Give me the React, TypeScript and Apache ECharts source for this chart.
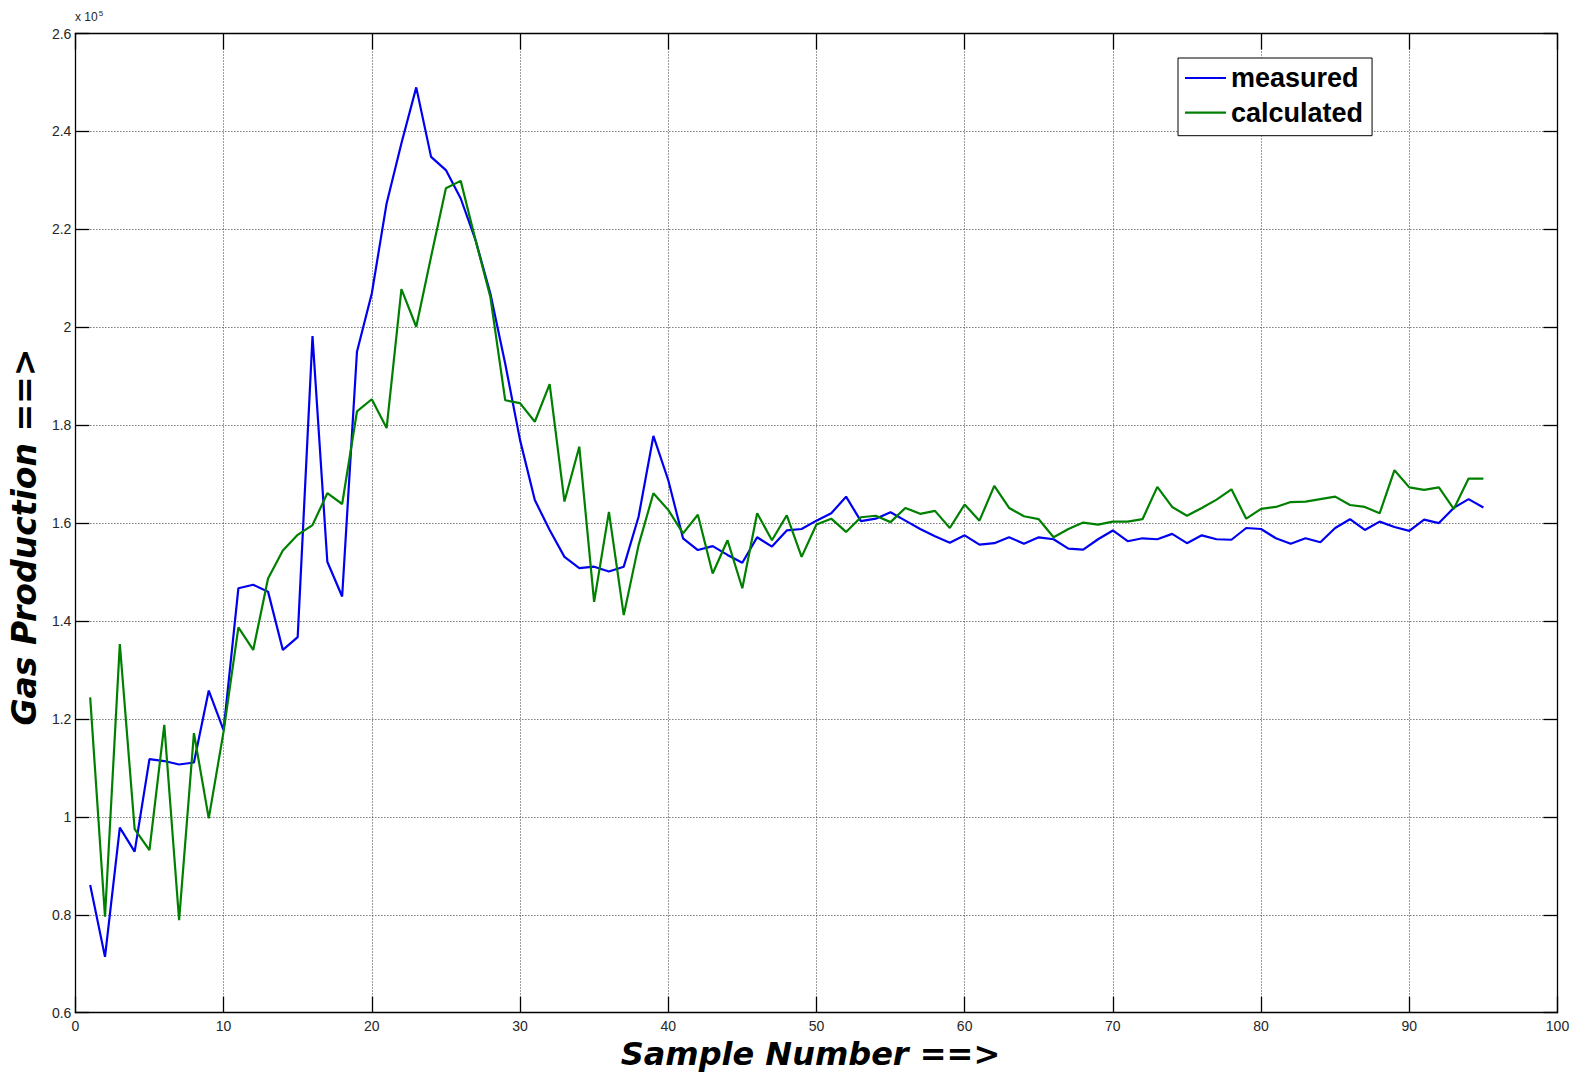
import React, { useEffect, useRef } from "react";
import * as echarts from "echarts";

const sampleNumbers: number[] = Array.from({ length: 95 }, (_, i) => i + 1);

const measured: number[] = [
  0.861, 0.714, 0.978, 0.929, 1.118, 1.114, 1.107, 1.111, 1.258, 1.177,
  1.467, 1.474, 1.46, 1.341, 1.367, 1.982, 1.521, 1.45, 1.95, 2.069,
  2.253, 2.376, 2.49, 2.348, 2.321, 2.263, 2.178, 2.069, 1.926, 1.77,
  1.647, 1.586, 1.531, 1.508, 1.511, 1.501, 1.511, 1.613, 1.778, 1.688,
  1.569, 1.545, 1.553, 1.535, 1.519, 1.571, 1.552, 1.585, 1.588, 1.605,
  1.62, 1.654, 1.604, 1.609, 1.622, 1.605, 1.588, 1.573, 1.56, 1.575,
  1.556, 1.559, 1.571, 1.558, 1.571, 1.567, 1.548, 1.546, 1.567, 1.585,
  1.563, 1.569, 1.567, 1.578, 1.559, 1.575, 1.567, 1.566, 1.59, 1.588,
  1.569, 1.558, 1.569, 1.561, 1.59, 1.608, 1.586, 1.603, 1.592, 1.584,
  1.607, 1.6, 1.631, 1.649, 1.632,
];

const calculated: number[] = [
  1.244, 0.796, 1.353, 0.975, 0.932, 1.188, 0.789, 1.171, 0.997, 1.174,
  1.387, 1.341, 1.487, 1.544, 1.576, 1.596, 1.661, 1.639, 1.828, 1.853,
  1.794, 2.078, 2.001, 2.144, 2.284, 2.299, 2.178, 2.062, 1.851, 1.845,
  1.807, 1.884, 1.644, 1.756, 1.439, 1.623, 1.412, 1.555, 1.661, 1.627,
  1.579, 1.617, 1.497, 1.565, 1.467, 1.62, 1.565, 1.616, 1.531, 1.597,
  1.609, 1.582, 1.612, 1.615, 1.602, 1.631, 1.619, 1.625, 1.59, 1.638,
  1.605, 1.676, 1.631, 1.614, 1.608, 1.571, 1.588, 1.601, 1.597, 1.603,
  1.603, 1.608, 1.674, 1.633, 1.615, 1.631, 1.648, 1.669, 1.609, 1.629,
  1.633, 1.643, 1.644, 1.649, 1.654, 1.637, 1.633, 1.62, 1.708, 1.673,
  1.668, 1.673, 1.629, 1.691, 1.691,
];

const seriesNames = ["measured", "calculated"];
const seriesColors = ["#0000f0", "#008000"];

const X_MIN = 0;
const X_MAX = 100;
const X_STEP = 10;
const Y_MIN = 0.6;
const Y_MAX = 2.6;
const Y_STEP = 0.2;

const X_TITLE = "Sample Number ==>";
const Y_TITLE = "Gas Production ==>";

export default function App() {
  const ref = useRef<HTMLDivElement>(null);

  useEffect(() => {
    if (!ref.current) return;
    const chart = echarts.init(ref.current, undefined, { renderer: "svg" });

    const tickFont = {
      fontFamily: "Liberation Sans",
      fontSize: 14,
      color: "#262626",
    };
    const titleFont = {
      fontFamily: "DejaVu Sans",
      fontWeight: "bold" as const,
      fontStyle: "italic" as const,
      color: "#000",
    };
    const gridLine = {
      show: true,
      lineStyle: { color: "#3a3a3a", type: [1, 2] as number[], width: 1 },
    };
    const axisLine = { show: true, onZero: false, lineStyle: { color: "#000", width: 1.3 } };
    const tickStyle = { color: "#000", width: 1.3 };

    const fmtY = (v: number) => String(parseFloat(v.toFixed(1)));

    chart.setOption({
      animation: false,
      backgroundColor: "#fff",
      grid: { left: 74, right: 18.5, top: 33.5, bottom: 66.3, containLabel: false },
      legend: {
        orient: "vertical",
        left: 1178,
        top: 58,
        padding: [6, 9, 9, 7],
        itemWidth: 41,
        itemHeight: 2.2,
        itemGap: 6.7,
        icon: "rect",
        backgroundColor: "#fff",
        borderColor: "#000",
        borderWidth: 1,
        borderRadius: 0,
        data: seriesNames,
        textStyle: {
          fontFamily: "Liberation Sans",
          fontWeight: "bold",
          fontSize: 27,
          lineHeight: 28,
          color: "#000",
        },
      },
      xAxis: [
        {
          type: "value",
          position: "bottom",
          min: X_MIN,
          max: X_MAX,
          interval: X_STEP,
          axisLine,
          axisTick: { show: true, inside: true, length: 16, lineStyle: tickStyle },
          axisLabel: { ...tickFont, margin: 6, showMinLabel: true, showMaxLabel: true },
          splitLine: gridLine,
          name: X_TITLE,
          nameLocation: "middle",
          nameGap: 24,
          nameTextStyle: { ...titleFont, fontSize: 32, padding: [0, 12, 0, 0] },
        },
        {
          type: "value",
          position: "top",
          min: X_MIN,
          max: X_MAX,
          interval: X_STEP,
          axisLine,
          axisTick: { show: true, inside: true, length: 16, lineStyle: tickStyle },
          axisLabel: { show: false },
          splitLine: { show: false },
        },
      ],
      yAxis: [
        {
          type: "value",
          position: "left",
          min: Y_MIN,
          max: Y_MAX,
          interval: Y_STEP,
          axisLine,
          axisTick: { show: true, inside: true, length: 14, lineStyle: tickStyle },
          axisLabel: { ...tickFont, margin: 4, formatter: fmtY, showMinLabel: true, showMaxLabel: true },
          splitLine: gridLine,
          name: Y_TITLE,
          nameLocation: "middle",
          nameGap: 28,
          nameRotate: 90,
          nameTextStyle: { ...titleFont, fontSize: 33, padding: [0, 28, 0, 0] },
        },
        {
          type: "value",
          position: "right",
          min: Y_MIN,
          max: Y_MAX,
          interval: Y_STEP,
          axisLine,
          axisTick: { show: true, inside: true, length: 14, lineStyle: tickStyle },
          axisLabel: { show: false },
          splitLine: { show: false },
        },
      ],
      graphic: [
        {
          type: "text",
          left: 75,
          top: 9,
          style: {
            text: "x 10{sup|5}",
            fontFamily: "Liberation Sans",
            fontSize: 12,
            fill: "#262626",
            rich: {
              sup: { fontSize: 8, verticalAlign: "top", padding: [0, 0, 8, 1], fill: "#262626" },
            },
          },
        },
      ],
      series: [
        {
          name: seriesNames[0],
          type: "line",
          xAxisIndex: 0,
          yAxisIndex: 0,
          data: sampleNumbers.map((x, i) => [x, measured[i]]),
          symbol: "none",
          lineStyle: { color: seriesColors[0], width: 2.2 },
          itemStyle: { color: seriesColors[0] },
        },
        {
          name: seriesNames[1],
          type: "line",
          xAxisIndex: 0,
          yAxisIndex: 0,
          data: sampleNumbers.map((x, i) => [x, calculated[i]]),
          symbol: "none",
          lineStyle: { color: seriesColors[1], width: 2.2 },
          itemStyle: { color: seriesColors[1] },
        },
      ],
    });

    return () => {
      chart.dispose();
    };
  }, []);

  return (
    <div
      ref={ref}
      style={{ position: "fixed", left: 0, top: 0, width: 1576, height: 1079, background: "#fff" }}
    />
  );
}
